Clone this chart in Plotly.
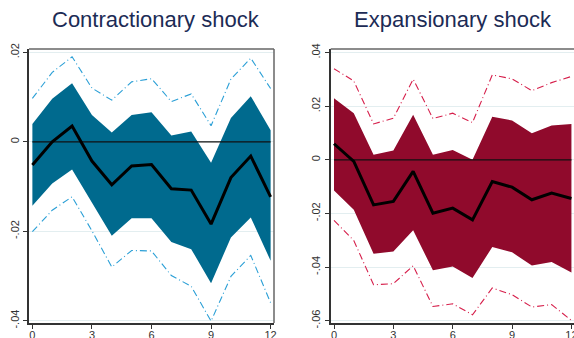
import plotly.graph_objects as go

# Horizons (periods after the shock)
horizon = list(range(13))

# Contractionary shock: point estimate, inner band, outer band
con_irf = [-0.0052, 0.0000, 0.0035, -0.0043, -0.0096, -0.0054, -0.0051,
           -0.0105, -0.0108, -0.0184, -0.0080, -0.0032, -0.0123]
con_in_hi = [0.0040, 0.0096, 0.0131, 0.0060, 0.0021, 0.0060, 0.0066,
             0.0014, 0.0023, -0.0047, 0.0053, 0.0102, 0.0026]
con_in_lo = [-0.0143, -0.0093, -0.0062, -0.0136, -0.0210, -0.0171, -0.0171,
             -0.0224, -0.0240, -0.0316, -0.0214, -0.0169, -0.0266]
con_out_hi = [0.0097, 0.0155, 0.0190, 0.0120, 0.0093, 0.0134, 0.0141,
              0.0090, 0.0107, 0.0036, 0.0140, 0.0187, 0.0119]
con_out_lo = [-0.0201, -0.0153, -0.0123, -0.0199, -0.0280, -0.0243, -0.0244,
              -0.0299, -0.0323, -0.0401, -0.0301, -0.0254, -0.0360]

# Expansionary shock: point estimate, inner band, outer band
exp_irf = [0.0060, -0.0006, -0.0168, -0.0155, -0.0043, -0.0199, -0.0180,
           -0.0224, -0.0081, -0.0102, -0.0149, -0.0124, -0.0144]
exp_in_hi = [0.0230, 0.0174, 0.0019, 0.0035, 0.0168, 0.0019, 0.0037,
             0.0000, 0.0161, 0.0147, 0.0099, 0.0128, 0.0134]
exp_in_lo = [-0.0114, -0.0186, -0.0350, -0.0342, -0.0263, -0.0412, -0.0398,
             -0.0441, -0.0325, -0.0345, -0.0394, -0.0381, -0.0420]
exp_out_hi = [0.0340, 0.0294, 0.0134, 0.0155, 0.0301, 0.0154, 0.0174,
              0.0139, 0.0317, 0.0302, 0.0258, 0.0288, 0.0311]
exp_out_lo = [-0.0226, -0.0301, -0.0466, -0.0462, -0.0395, -0.0547, -0.0537,
              -0.0578, -0.0478, -0.0503, -0.0549, -0.0540, -0.0599]

# Axis ticks
x_ticks = [0, 3, 6, 9, 12]
con_yticks = [0.02, 0.0, -0.02, -0.04]
con_ylabels = [".02", "0", "-.02", "-.04"]
exp_yticks = [0.04, 0.02, 0.0, -0.02, -0.04, -0.06]
exp_ylabels = [".04", ".02", "0", "-.02", "-.04", "-.06"]

titles = ["Contractionary shock", "Expansionary shock"]

W, H = 574, 338
fig = go.Figure()

DASH = "7px,3px,1px,3px"


def add_panel(xa, ya, irf, in_lo, in_hi, out_lo, out_hi, fill_col, dash_col):
    fig.add_trace(go.Scatter(x=horizon, y=in_lo, mode="lines", line=dict(width=0, color=fill_col),
                             xaxis=xa, yaxis=ya, showlegend=False, hoverinfo="skip"))
    fig.add_trace(go.Scatter(x=horizon, y=in_hi, mode="lines", line=dict(width=0, color=fill_col),
                             fill="tonexty", fillcolor=fill_col,
                             xaxis=xa, yaxis=ya, showlegend=False, hoverinfo="skip"))
    for band in (out_hi, out_lo):
        fig.add_trace(go.Scatter(x=horizon, y=band, mode="lines",
                                 line=dict(width=1.1, color=dash_col, dash=DASH),
                                 xaxis=xa, yaxis=ya, showlegend=False))
    # zero reference line
    fig.add_trace(go.Scatter(x=[horizon[0], horizon[-1]], y=[0, 0], mode="lines",
                             line=dict(width=1.2, color="#111111"),
                             xaxis=xa, yaxis=ya, showlegend=False, hoverinfo="skip"))
    fig.add_trace(go.Scatter(x=horizon, y=irf, mode="lines",
                             line=dict(width=3, color="#000000"),
                             xaxis=xa, yaxis=ya, showlegend=False))


add_panel("x", "y", con_irf, con_in_lo, con_in_hi, con_out_lo, con_out_hi, "#006a8e", "#2a9fd6")
add_panel("x2", "y2", exp_irf, exp_in_lo, exp_in_hi, exp_out_lo, exp_out_hi, "#900a2c", "#d61f4b")

font_ticks = dict(family="Liberation Sans, Arial, sans-serif", size=11, color="#333333")
ydom = [1 - 323 / H, 1 - 49 / H]

xcommon = dict(tickmode="array", tickvals=x_ticks, ticktext=[str(t) for t in x_ticks],
               ticks="outside", ticklen=4, tickwidth=1, tickcolor="#333333",
               showline=True, linecolor="#333333", linewidth=2, mirror=False,
               showgrid=False, zeroline=False, tickfont=font_ticks, fixedrange=True,
               ticklabeloverflow="allow", ticklabelstandoff=-3, automargin=False)
ycommon = dict(tickmode="array", ticks="outside", ticklen=4, tickwidth=1, tickcolor="#333333",
               showline=True, linecolor="#333333", linewidth=2, tickangle=-90,
               showgrid=True, gridcolor="#e3eef0", gridwidth=1, zeroline=False,
               tickfont=font_ticks, domain=ydom, fixedrange=True, automargin=False)

title_font = dict(family="Liberation Sans, Arial, sans-serif", size=22, color="#1c2b55")

fig.update_layout(
    width=W, height=H,
    margin=dict(l=0, r=0, t=0, b=0),
    paper_bgcolor="white", plot_bgcolor="white",
    xaxis=dict(domain=[29 / W, 274 / W], range=[-0.17, 12.17], anchor="y", **xcommon),
    yaxis=dict(anchor="x", range=[-0.04051, 0.02074], tickvals=con_yticks, ticktext=con_ylabels, **ycommon),
    xaxis2=dict(domain=[330.7 / W, 1.0], range=[-0.167, 12.13], anchor="y2", **xcommon),
    yaxis2=dict(anchor="x2", range=[-0.06086, 0.04134], tickvals=exp_yticks, ticktext=exp_ylabels, **ycommon),
    annotations=[
        dict(text=titles[0], x=156 / W, y=1 - 20 / H, xref="paper", yref="paper",
             showarrow=False, xanchor="center", yanchor="middle", font=title_font),
        dict(text=titles[1], x=453 / W, y=1 - 20 / H, xref="paper", yref="paper",
             showarrow=False, xanchor="center", yanchor="middle", font=title_font),
    ],
    shapes=[
        # thin top/right frame of the left panel
        dict(type="line", xref="paper", yref="paper", x0=29 / W, x1=274 / W, y0=ydom[1], y1=ydom[1],
             line=dict(color="#666666", width=1.5)),
        dict(type="line", xref="paper", yref="paper", x0=274 / W, x1=274 / W, y0=ydom[0], y1=ydom[1],
             line=dict(color="#666666", width=1.5)),
        # thin top frame of the right panel
        dict(type="line", xref="paper", yref="paper", x0=330.7 / W, x1=1.0, y0=ydom[1], y1=ydom[1],
             line=dict(color="#666666", width=1.5)),
    ],
)

fig.write_html("out.html")
